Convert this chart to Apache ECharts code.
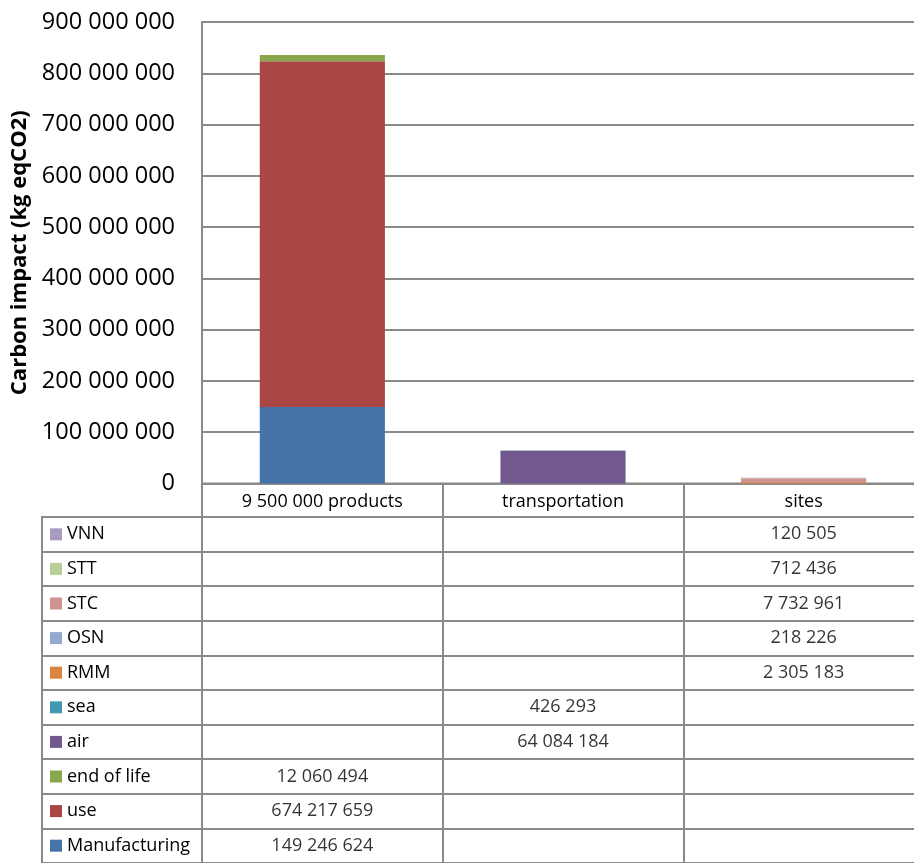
<!DOCTYPE html>
<html>
<head>
<meta charset="utf-8">
<script src="https://cdn.jsdelivr.net/npm/echarts@6/dist/echarts.min.js"></script>
<style>
  html, body { margin: 0; padding: 0; background: #fff; overflow: hidden; width: 914px; height: 863px; }
  #chart { width: 930px; height: 863px; }
</style>
</head>
<body>
<div id="chart"></div>
<script>
// Categories along the x axis (also the data-table columns)
const categories = ['9 500 000 products', 'transportation', 'sites'];

// Stack components, bottom to top
const seriesNames = ['Manufacturing', 'use', 'end of life', 'air', 'sea', 'RMM', 'OSN', 'STC', 'STT', 'VNN'];
const seriesColors = ['#4572A7', '#AA4643', '#89A54E', '#71588F', '#4198AF', '#DB843D', '#93A9CF', '#D19392', '#B9CD96', '#A99BBD'];

// Carbon impact per category (kg eqCO2)
const manufacturing = [149246624, null, null];
const use = [674217659, null, null];
const endOfLife = [12060494, null, null];
const air = [null, 64084184, null];
const sea = [null, 426293, null];
const rmm = [null, null, 2305183];
const osn = [null, null, 218226];
const stc = [null, null, 7732961];
const stt = [null, null, 712436];
const vnn = [null, null, 120505];

const seriesValues = [manufacturing, use, endOfLife, air, sea, rmm, osn, stc, stt, vnn];

// Value axis range
const yMin = 0;
const yMax = 900000000;
const yStep = 100000000;

const FONT = '"Open Sans", "Noto Sans", sans-serif';
const LINE = '#8a8a8a';
const TEXT = '#000';

function fmt(v) {
  return String(Math.round(v)).replace(/\B(?=(\d{3})+(?!\d))/g, ' ');
}

// Layout of the plot and the data table beneath it
const plotLeft = 202, plotTop = 22, plotWidth = 722, plotHeight = 461.5;
const headerHeight = 33.5;
const rowHeight = 35.1;
const tableTop = plotTop + plotHeight + headerHeight;
const labelLeft = 42;

const barSeries = seriesNames.map((name, i) => ({
  name: name,
  type: 'bar',
  stack: 'total',
  xAxisIndex: 0,
  yAxisIndex: 0,
  barWidth: '52%',
  itemStyle: { color: seriesColors[i] },
  data: seriesValues[i]
}));

// Table cells: [column, row, value]
const cellData = [];
seriesValues.forEach((arr, row) => {
  arr.forEach((v, col) => {
    if (v !== null) cellData.push([col, row, v]);
  });
});

const rich = { t: { fontFamily: FONT, fontSize: 18, color: TEXT, padding: [0, 0, 0, 5] } };
seriesColors.forEach((c, i) => {
  rich['s' + i] = { width: 12, height: 12, backgroundColor: c };
});

const option = {
  animation: false,
  backgroundColor: '#fff',
  textStyle: { fontFamily: FONT },
  grid: [
    { // bar plot
      left: plotLeft, top: plotTop, width: plotWidth, height: plotHeight,
      containLabel: false
    },
    { // header row with category names
      left: plotLeft, top: plotTop + plotHeight, width: plotWidth, height: headerHeight,
      show: true, borderColor: LINE, borderWidth: 2, backgroundColor: 'transparent'
    },
    { // value cells
      left: plotLeft, top: tableTop, width: plotWidth, height: rowHeight * seriesNames.length,
      show: true, borderColor: LINE, borderWidth: 2, backgroundColor: 'transparent'
    },
    { // legend-key column
      left: labelLeft, top: tableTop, width: plotLeft - labelLeft, height: rowHeight * seriesNames.length,
      show: true, borderColor: LINE, borderWidth: 2, backgroundColor: 'transparent'
    }
  ],
  xAxis: [
    {
      gridIndex: 0, type: 'category', data: categories,
      axisLine: { show: true, lineStyle: { color: LINE, width: 2 } },
      axisTick: { show: false },
      axisLabel: { show: true, margin: 9, fontFamily: FONT, fontSize: 18, color: TEXT },
      splitLine: { show: false }
    },
    {
      gridIndex: 1, type: 'category', data: categories,
      axisLine: { show: false }, axisTick: { show: false }, axisLabel: { show: false },
      splitLine: { show: true, lineStyle: { color: LINE, width: 2 } }
    },
    {
      gridIndex: 2, type: 'category', data: categories,
      axisLine: { show: false }, axisTick: { show: false }, axisLabel: { show: false },
      splitLine: { show: true, lineStyle: { color: LINE, width: 2 } }
    },
    {
      gridIndex: 3, type: 'category', data: [''],
      axisLine: { show: false }, axisTick: { show: false }, axisLabel: { show: false },
      splitLine: { show: false }
    }
  ],
  yAxis: [
    {
      gridIndex: 0, type: 'value', min: yMin, max: yMax, interval: yStep,
      name: 'Carbon impact (kg eqCO2)',
      nameLocation: 'middle',
      nameGap: 164,
      nameTextStyle: { fontFamily: FONT, fontSize: 22, fontWeight: 'bold', color: TEXT },
      axisLine: { show: true, lineStyle: { color: LINE, width: 2 } },
      axisTick: { show: false },
      axisLabel: { margin: 27, fontFamily: FONT, fontSize: 23.5, color: TEXT, formatter: fmt },
      splitLine: { show: true, lineStyle: { color: LINE, width: 2 } }
    },
    {
      gridIndex: 1, type: 'category', data: [''],
      axisLine: { show: false }, axisTick: { show: false }, axisLabel: { show: false },
      splitLine: { show: false }
    },
    {
      gridIndex: 2, type: 'category', data: seriesNames,
      axisLine: { show: false }, axisTick: { show: false }, axisLabel: { show: false },
      splitLine: { show: true, lineStyle: { color: LINE, width: 2 } }
    },
    {
      gridIndex: 3, type: 'category', data: seriesNames,
      axisLine: { show: false }, axisTick: { show: false },
      axisLabel: {
        show: true, inside: true, margin: 8,
        formatter: (v, i) => '{s' + i + '|}{t|' + v + '}',
        rich: rich
      },
      splitLine: { show: true, lineStyle: { color: LINE, width: 2 } }
    }
  ],
  series: barSeries.concat([
    {
      name: 'table',
      type: 'scatter',
      xAxisIndex: 2,
      yAxisIndex: 2,
      symbolSize: 0,
      silent: true,
      label: {
        show: true, position: 'inside',
        fontFamily: FONT, fontSize: 18, color: TEXT,
        formatter: p => fmt(p.value[2])
      },
      data: cellData
    }
  ])
};

const chart = echarts.init(document.getElementById('chart'), null, { renderer: 'canvas' });
chart.setOption(option);
</script>
</body>
</html>
